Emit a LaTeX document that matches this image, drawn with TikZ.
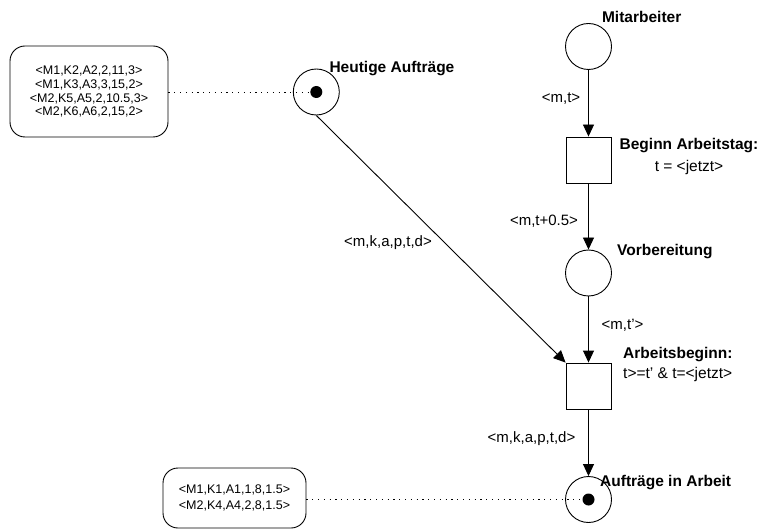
\documentclass[tikz,border=0pt]{standalone}
\usepackage{fontspec}
\setmainfont{Liberation Sans}
\usetikzlibrary{arrows.meta}
\begin{document}
\begin{tikzpicture}[x=1pt,y=-1pt,
  place/.style={circle,draw,line width=0.9pt,minimum size=46pt,inner sep=0pt},
  trans/.style={rectangle,draw,line width=0.9pt,minimum width=45pt,minimum height=46pt,inner sep=0pt},
  token/.style={circle,fill=black,minimum size=12pt,inner sep=0pt},
  arc/.style={line width=0.9pt,-{Triangle[length=12pt,width=11pt]}},
  note/.style={draw,rounded corners=15pt,line width=0.9pt,align=center,inner sep=0pt},
  link/.style={line width=0.9pt,dash pattern=on 1.2pt off 4.6pt},
  title/.style={font=\fontsize{15.5}{22}\selectfont\bfseries,inner sep=0pt},
  lbl/.style={font=\fontsize{15}{20}\selectfont,inner sep=0pt}]
\useasboundingbox (0,0) rectangle (760,529);

% places and transitions
\node[place] (mit) at (588.5,46.5) {};
\node[trans] (beg) at (588.5,160) {};
\node[place] (vor) at (588.5,273) {};
\node[trans] (arb) at (588.5,386) {};
\node[place] (inarb) at (588.5,499.5) {};
\node[place] (heute) at (316.3,92) {};
\node[token] (tokh) at (heute.center) {};
\node[token] (toka) at (inarb.center) {};

% token lists
\node[note,minimum width=158pt,minimum height=91pt,
      font=\fontsize{12.5}{13.9}\selectfont] (listh) at (89,91.5)
  {<M1,K2,A2,2,11,3>\\<M1,K3,A3,3,15,2>\\<M2,K5,A5,2,10.5,3>\\<M2,K6,A6,2,15,2>};
\node[note,minimum width=143pt,minimum height=60pt,
      font=\fontsize{12.5}{16}\selectfont] (lista) at (234.5,498)
  {<M1,K1,A1,1,8,1.5>\\<M2,K4,A4,2,8,1.5>};
\draw[link] (listh.east |- tokh) -- (tokh);
\draw[link] (lista.east |- toka) -- (toka);

% arcs
\draw[arc] (mit) -- (beg);
\draw[arc] (beg) -- (vor);
\draw[arc] (vor) -- (arb);
\draw[arc] (arb) -- (inarb);
\draw[arc] (heute.south) -- (arb.north west);

% arc inscriptions
\node[lbl] (l1) at (561,99) {<m,t>};
\node[lbl] (l2) at (544,221) {<m,t+0.5>};
\node[lbl] (l3) at (622.5,325) {<m,t’>};
\node[lbl] (l4) at (388,243) {<m,k,a,p,t,d>};
\node[lbl] (l5) at (531.5,439) {<m,k,a,p,t,d>};

% names and guards
\node[title] (nmit) at (641.7,17) {Mitarbeiter};
\node[title,anchor=west] (nheute) at (329.3,69) {Heutige Aufträge};
\node[title,align=center] (nbeg) at (689,156) {Beginn Arbeitstag:\\\mdseries t = <jetzt>};
\node[title,anchor=west] (nvor) at (617,252) {Vorbereitung};
\node[title,anchor=west,align=left,font=\fontsize{15.5}{20}\selectfont\bfseries] (narb) at (623,364)
  {Arbeitsbeginn:\\\mdseries t>=t’ \& t=<jetzt>};
\node[title,anchor=west] (ninarb) at (600,483) {Aufträge in Arbeit};
\end{tikzpicture}
\end{document}
